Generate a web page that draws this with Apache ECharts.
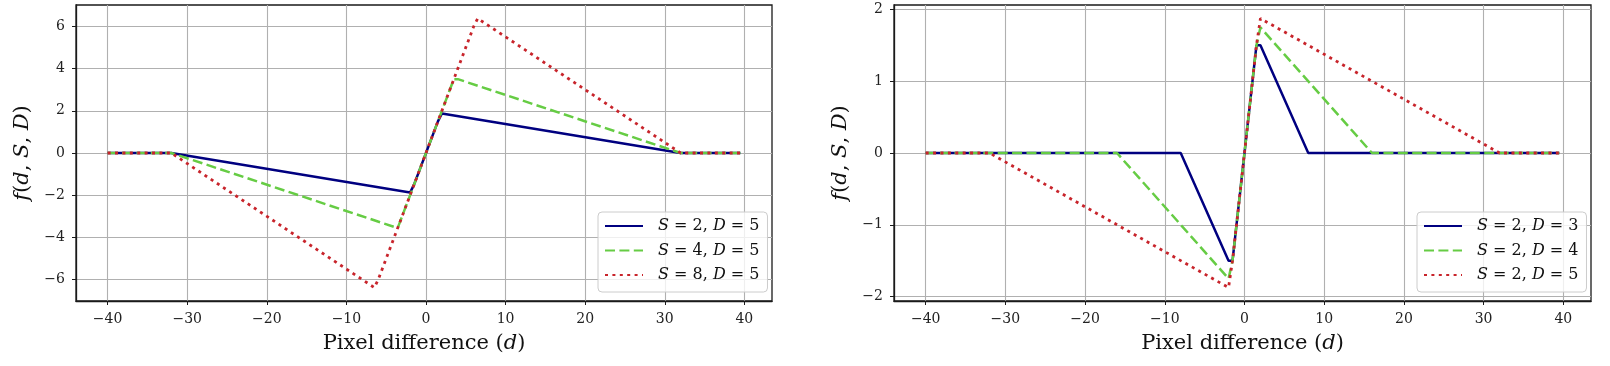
<!DOCTYPE html>
<html>
<head>
<meta charset="utf-8">
<script src="https://cdn.jsdelivr.net/npm/echarts@6/dist/echarts.min.js"></script>
<style>
html,body{margin:0;padding:0;background:#fff;}
#chart{width:1610px;height:366px;}
</style>
</head>
<body>
<div id="chart"></div>
<script>
const leftNames = ['S = 2, D = 5', 'S = 4, D = 5', 'S = 8, D = 5'];
// trailing zero-width space keeps the right legend names unique
const rightNames = ['S = 2, D = 3\u200b', 'S = 2, D = 4\u200b', 'S = 2, D = 5\u200b'];

const leftS2D5_x = [-40, -32, -2, -1.5, 1.5, 2, 32, 39.5];
const leftS2D5_y = [0, 0, -1.875, -1.5, 1.5, 1.875, 0, 0];
const leftS4D5_x = [-40, -32, -4, -3.5, 3.5, 4, 32, 39.5];
const leftS4D5_y = [0, 0, -3.5, -3.5, 3.5, 3.5, 0, 0];
const leftS8D5_x = [-40, -32, -6.5, -6, 6, 6.5, 32, 39.5];
const leftS8D5_y = [0, 0, -6.375, -6, 6, 6.375, 0, 0];

const rightS2D3_x = [-40, -8, -2, -1.5, 1.5, 2, 8, 39.5];
const rightS2D3_y = [0, 0, -1.5, -1.5, 1.5, 1.5, 0, 0];
const rightS2D4_x = [-40, -16, -2, -1.5, 1.5, 2, 16, 39.5];
const rightS2D4_y = [0, 0, -1.75, -1.5, 1.5, 1.75, 0, 0];
const rightS2D5_x = [-40, -32, -2, -1.5, 1.5, 2, 32, 39.5];
const rightS2D5_y = [0, 0, -1.875, -1.5, 1.5, 1.875, 0, 0];

const xTicks = [-40, -30, -20, -10, 0, 10, 20, 30, 40];
const leftYTicks = [-6, -4, -2, 0, 2, 4, 6];
const rightYTicks = [-2, -1, 0, 1, 2];

// ---- Styling ----
const FONT = 'DejaVu Serif';
const colors = ['#000080', '#66cc44', '#c8242b'];
const lineTypes = ['solid', [10, 4.4], [3, 4.4]];
const lineWidths = [2.5, 2.5, 2.8];
const zip = (xs, ys) => xs.map((x, i) => [x, ys[i]]);
const minus = v => String(v).replace('-', '\u2212');

function makeX(gridIndex) {
  return {
    type: 'value', gridIndex, min: -43.975, max: 43.475,
    name: '{n|Pixel difference (}{i|d}{n|)}',
    nameLocation: 'middle', nameGap: 32,
    nameTextStyle: { rich: {
      n: { fontFamily: FONT, fontSize: 21, color: '#111' },
      i: { fontFamily: FONT, fontSize: 21, fontStyle: 'italic', color: '#111' } } },
    axisLine: { show: true, onZero: false, lineStyle: { color: '#1a1a1a', width: 1.3 } },
    axisTick: { show: true, inside: false, length: 4, customValues: xTicks, lineStyle: { color: '#1a1a1a', width: 1 } },
    axisLabel: { customValues: xTicks, formatter: minus, fontFamily: FONT, fontSize: 14, color: '#222', margin: 11 },
    splitLine: { show: true, lineStyle: { color: '#b0b0b0', width: 1.1 } }
  };
}
function makeY(gridIndex, lim, ticks) {
  return {
    type: 'value', gridIndex, min: -lim, max: lim,
    name: '{i|f}{n|(}{i|d}{n|, }{i|S}{n|, }{i|D}{n|)}',
    nameLocation: 'middle', nameGap: 43, nameRotate: 90,
    nameTextStyle: { rich: {
      n: { fontFamily: FONT, fontSize: 21, color: '#111' },
      i: { fontFamily: FONT, fontSize: 21, fontStyle: 'italic', color: '#111' } } },
    axisLine: { show: true, onZero: false, lineStyle: { color: '#1a1a1a', width: 1.3 } },
    axisTick: { show: true, inside: false, length: 4, customValues: ticks, lineStyle: { color: '#1a1a1a', width: 1 } },
    axisLabel: { customValues: ticks, formatter: minus, fontFamily: FONT, fontSize: 14, color: '#222', margin: 11 },
    splitLine: { show: true, lineStyle: { color: '#b0b0b0', width: 1.1 } }
  };
}
function makeSeries(name, data, k, xi, yi) {
  return {
    type: 'line', name, data, xAxisIndex: xi, yAxisIndex: yi,
    symbol: 'none', showSymbol: false, animation: false,
    lineStyle: { color: colors[k], width: lineWidths[k], type: lineTypes[k] },
    itemStyle: { color: colors[k] }, z: 2 + k
  };
}
function makeLegend(left, names) {
  return {
    left, top: 212, orient: 'vertical', data: names,
    itemWidth: 38, itemHeight: 16, itemGap: 8.5,
    padding: [6, 8, 9, 6],
    backgroundColor: 'rgba(255,255,255,0.8)', borderColor: '#cccccc', borderWidth: 1, borderRadius: 4,
    itemStyle: { color: 'rgba(0,0,0,0)', borderWidth: 0, opacity: 0 },
    formatter: n => n.replace('\u200b', '').replace(/([SD])/g, '{i|$1}'),
    textStyle: { fontFamily: FONT, fontSize: 16, color: '#111', lineHeight: 16, padding: [0, 0, 0, 10],
      rich: { i: { fontFamily: FONT, fontSize: 16, fontStyle: 'italic', color: '#111' } } }
  };
}

const option = {
  animation: false,
  backgroundColor: '#fff',
  grid: [
    { left: 76, top: 5, width: 696, height: 296, show: true, borderColor: '#1a1a1a', borderWidth: 1.3, backgroundColor: 'transparent' },
    { left: 894, top: 5, width: 697, height: 296, show: true, borderColor: '#1a1a1a', borderWidth: 1.3, backgroundColor: 'transparent' }
  ],
  xAxis: [makeX(0), makeX(1)],
  yAxis: [makeY(0, 7.0125, leftYTicks), makeY(1, 2.0625, rightYTicks)],
  legend: [makeLegend(598, leftNames), makeLegend(1417, rightNames)],
  series: [
    makeSeries(leftNames[0], zip(leftS2D5_x, leftS2D5_y), 0, 0, 0),
    makeSeries(leftNames[1], zip(leftS4D5_x, leftS4D5_y), 1, 0, 0),
    makeSeries(leftNames[2], zip(leftS8D5_x, leftS8D5_y), 2, 0, 0),
    makeSeries(rightNames[0], zip(rightS2D3_x, rightS2D3_y), 0, 1, 1),
    makeSeries(rightNames[1], zip(rightS2D4_x, rightS2D4_y), 1, 1, 1),
    makeSeries(rightNames[2], zip(rightS2D5_x, rightS2D5_y), 2, 1, 1)
  ]
};
echarts.init(document.getElementById('chart'), null, { renderer: 'canvas' }).setOption(option);
</script>
</body>
</html>
